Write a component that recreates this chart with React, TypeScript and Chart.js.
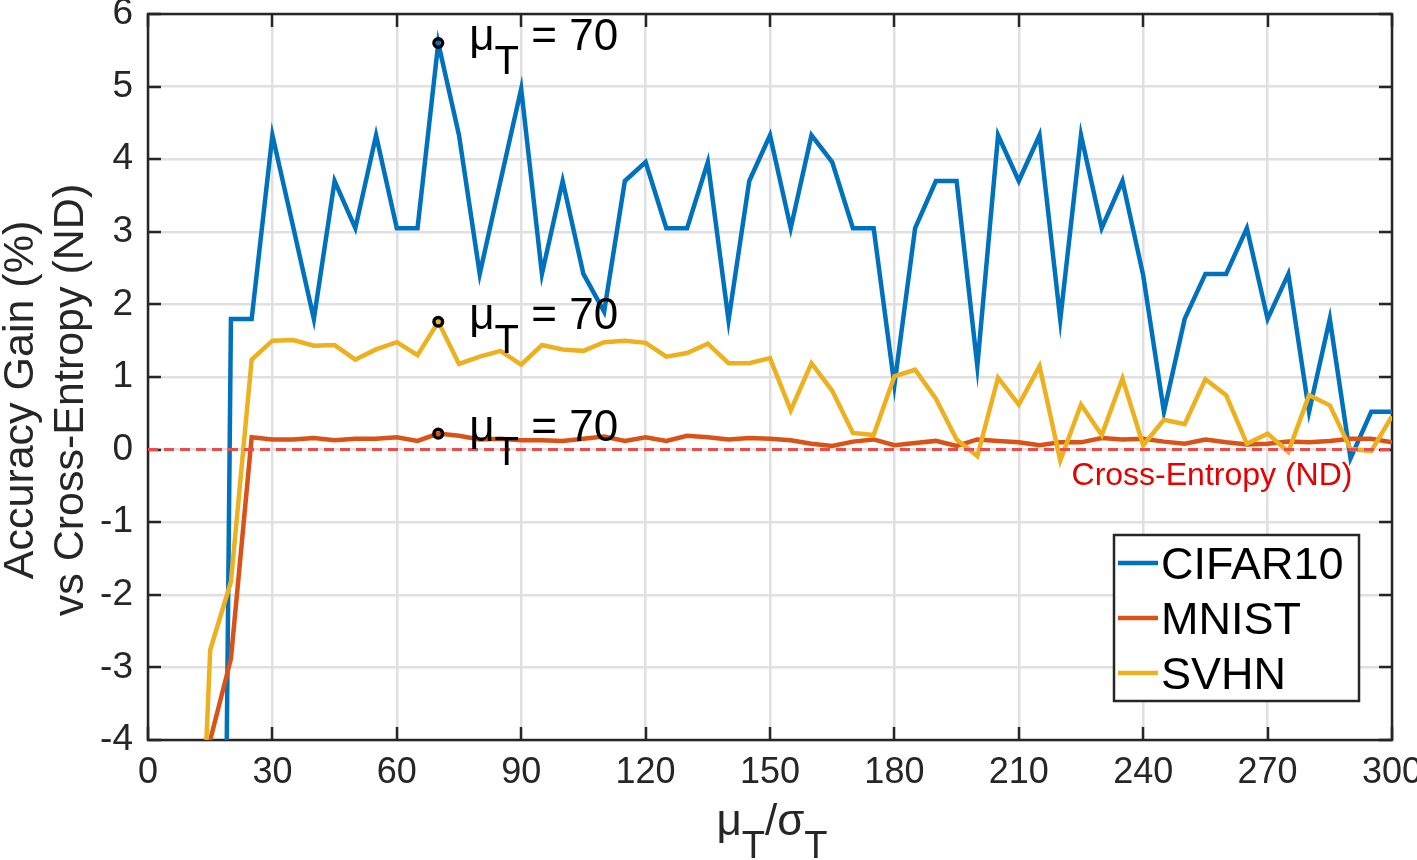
import React, { useEffect, useRef } from 'react';
import { Chart, registerables } from 'chart.js';

Chart.register(...registerables);

const xValues = [10, 15, 20, 25, 30, 35, 40, 45, 50, 55, 60, 65, 70, 75, 80, 85, 90, 95, 100, 105, 110, 115, 120, 125, 130, 135, 140, 145, 150, 155, 160, 165, 170, 175, 180, 185, 190, 195, 200, 205, 210, 215, 220, 225, 230, 235, 240, 245, 250, 255, 260, 265, 270, 275, 280, 285, 290, 295, 300];

const cifar10 = [-30, -27, 1.8, 1.8, 4.33, 3.07, 1.8, 3.7, 3.05, 4.33, 3.05, 3.05, 5.6, 4.33, 2.42, 3.7, 4.97, 2.42, 3.7, 2.42, 1.9, 3.7, 3.96, 3.05, 3.05, 3.96, 1.78, 3.7, 4.33, 3.05, 4.33, 3.96, 3.05, 3.05, 0.89, 3.05, 3.7, 3.7, 1.15, 4.33, 3.7, 4.33, 1.79, 4.33, 3.05, 3.7, 2.4, 0.52, 1.8, 2.42, 2.42, 3.05, 1.8, 2.42, 0.52, 1.8, -0.12, 0.52, 0.52];

const mnist = [-10, -4.0, -2.88, 0.17, 0.14, 0.14, 0.16, 0.13, 0.15, 0.15, 0.17, 0.12, 0.22, 0.19, 0.14, 0.15, 0.13, 0.13, 0.12, 0.15, 0.18, 0.12, 0.17, 0.12, 0.19, 0.17, 0.14, 0.16, 0.15, 0.13, 0.08, 0.05, 0.11, 0.14, 0.06, 0.09, 0.12, 0.05, 0.14, 0.12, 0.1, 0.06, 0.1, 0.1, 0.16, 0.14, 0.15, 0.11, 0.08, 0.14, 0.1, 0.07, 0.08, 0.11, 0.1, 0.12, 0.15, 0.15, 0.1];

const svhn = [-9.6, -2.76, -1.82, 1.24, 1.5, 1.51, 1.43, 1.44, 1.24, 1.38, 1.48, 1.3, 1.76, 1.18, 1.28, 1.36, 1.17, 1.44, 1.38, 1.36, 1.48, 1.5, 1.47, 1.28, 1.33, 1.46, 1.19, 1.19, 1.26, 0.54, 1.19, 0.81, 0.23, 0.2, 1.01, 1.1, 0.7, 0.14, -0.09, 0.99, 0.62, 1.15, -0.15, 0.62, 0.2, 0.98, 0.06, 0.41, 0.35, 0.97, 0.75, 0.08, 0.22, -0.03, 0.75, 0.61, 0.01, -0.02, 0.46];

const seriesNames = ['CIFAR10', 'MNIST', 'SVHN'];
const seriesColors = ['#0072BD', '#D95319', '#EDB120'];

const baselineX = [0, 300];
const baselineY = [0, 0];
const baselineLabel = 'Cross-Entropy (ND)';

const xTicks = [0, 30, 60, 90, 120, 150, 180, 210, 240, 270, 300];
const yTicks = [-4, -3, -2, -1, 0, 1, 2, 3, 4, 5, 6];

const markX = 70;
const markLabelValue = '70';

const yTitleLines = ['Accuracy Gain (%)', 'vs Cross-Entropy (ND)'];

const FONT = '"Liberation Sans", Arial, Helvetica, sans-serif';
const AXIS = '#262626';
const LINE_W = 4.5;

type Part = { t: string; size: number; dy: number };

function partsWidth(ctx: CanvasRenderingContext2D, parts: Part[]) {
  let w = 0;
  for (const p of parts) {
    ctx.font = `${p.size}px ${FONT}`;
    w += ctx.measureText(p.t).width;
  }
  return w;
}

function drawParts(ctx: CanvasRenderingContext2D, parts: Part[], x: number, y: number) {
  let cx = x;
  ctx.textAlign = 'left';
  ctx.textBaseline = 'alphabetic';
  for (const p of parts) {
    ctx.font = `${p.size}px ${FONT}`;
    ctx.fillText(p.t, cx, y + p.dy);
    cx += ctx.measureText(p.t).width;
  }
}

const decorPlugin = {
  id: 'decor',
  beforeDatasetsDraw(chart: any) {
    const { ctx, chartArea: a } = chart;
    const xs = chart.scales.x;
    const ys = chart.scales.y;
    ctx.save();
    ctx.strokeStyle = AXIS;
    ctx.lineWidth = 2.5;
    const tl = 13;
    ctx.beginPath();
    for (const v of xTicks) {
      const px = Math.round(xs.getPixelForValue(v));
      ctx.moveTo(px, a.bottom);
      ctx.lineTo(px, a.bottom - tl);
      ctx.moveTo(px, a.top);
      ctx.lineTo(px, a.top + tl);
    }
    for (const v of yTicks) {
      const py = Math.round(ys.getPixelForValue(v));
      ctx.moveTo(a.left, py);
      ctx.lineTo(a.left + tl, py);
      ctx.moveTo(a.right, py);
      ctx.lineTo(a.right - tl, py);
    }
    ctx.stroke();
    ctx.strokeRect(a.left, a.top, a.right - a.left, a.bottom - a.top);
    ctx.restore();
  },
  afterDatasetsDraw(chart: any) {
    const { ctx } = chart;
    const xs = chart.scales.x;
    const ys = chart.scales.y;
    const idx = xValues.indexOf(markX);
    ctx.save();
    // markers and annotations
    [cifar10, svhn, mnist].forEach((arr) => {
      const px = xs.getPixelForValue(markX);
      const py = ys.getPixelForValue(arr[idx]);
      ctx.beginPath();
      ctx.arc(px, py, 4.3, 0, Math.PI * 2);
      ctx.strokeStyle = '#000';
      ctx.lineWidth = 3.5;
      ctx.stroke();
      ctx.fillStyle = '#000';
      drawParts(ctx, [
        { t: 'μ', size: 44, dy: 0 },
        { t: 'T', size: 40, dy: 24 },
        { t: ' = ' + markLabelValue, size: 44, dy: 0 },
      ], px + 31, py + 7);
    });
    // baseline label
    ctx.fillStyle = '#E60000';
    ctx.font = `32px ${FONT}`;
    ctx.textAlign = 'center';
    ctx.textBaseline = 'alphabetic';
    ctx.fillText(baselineLabel, 1212, ys.getPixelForValue(0) + 35);

    // legend
    const lx = 1114, ly = 535, lw = 245, lh = 166;
    ctx.fillStyle = '#fff';
    ctx.fillRect(lx, ly, lw, lh);
    ctx.strokeStyle = AXIS;
    ctx.lineWidth = 2.5;
    ctx.strokeRect(lx, ly, lw, lh);
    const rowY = [563, 618, 673];
    seriesNames.forEach((n, i) => {
      ctx.strokeStyle = seriesColors[i];
      ctx.lineWidth = LINE_W;
      ctx.beginPath();
      ctx.moveTo(1118, rowY[i]);
      ctx.lineTo(1158, rowY[i]);
      ctx.stroke();
      ctx.fillStyle = '#000';
      ctx.font = `45px ${FONT}`;
      ctx.textAlign = 'left';
      ctx.textBaseline = 'alphabetic';
      ctx.fillText(n, 1161, rowY[i] + 16);
    });

    // y title
    ctx.fillStyle = '#262626';
    ctx.font = `43px ${FONT}`;
    ctx.textAlign = 'center';
    ctx.textBaseline = 'alphabetic';
    const cy = 400;
    [33, 83].forEach((bx, i) => {
      ctx.save();
      ctx.translate(bx, cy);
      ctx.rotate(-Math.PI / 2);
      ctx.fillText(yTitleLines[i], 0, 0);
      ctx.restore();
    });

    // x title
    const xp: Part[] = [
      { t: 'μ', size: 44, dy: 0 },
      { t: 'T', size: 38, dy: 23 },
      { t: '/σ', size: 44, dy: 0 },
      { t: 'T', size: 38, dy: 23 },
    ];
    const w = partsWidth(ctx, xp);
    ctx.fillStyle = '#262626';
    drawParts(ctx, xp, 772 - w / 2, 835);
    ctx.restore();
  },
};

export default function App() {
  const ref = useRef<HTMLCanvasElement>(null);
  useEffect(() => {
    if (!ref.current) return;
    const mk = (arr: number[]) => xValues.map((x, i) => ({ x, y: arr[i] }));
    const chart = new Chart(ref.current, {
      type: 'line',
      data: {
        datasets: [
          {
            label: 'baseline',
            data: baselineX.map((x, i) => ({ x, y: baselineY[i] })),
            borderColor: '#EE4B4B',
            borderWidth: 3,
            borderDash: [10, 6],
            pointRadius: 0,
            order: 0,
          },
          { label: seriesNames[0], data: mk(cifar10), borderColor: seriesColors[0], borderWidth: LINE_W, pointRadius: 0, order: 3 },
          { label: seriesNames[1], data: mk(mnist), borderColor: seriesColors[1], borderWidth: LINE_W, pointRadius: 0, order: 2 },
          { label: seriesNames[2], data: mk(svhn), borderColor: seriesColors[2], borderWidth: LINE_W, pointRadius: 0, order: 1 },
        ],
      },
      options: {
        responsive: false,
        animation: false,
        devicePixelRatio: 1,
        layout: { padding: { top: 14, right: 25, left: 0, bottom: 0 } },
        plugins: { legend: { display: false }, tooltip: { enabled: false } },
        elements: { line: { tension: 0, borderJoinStyle: 'miter' as any } },
        scales: {
          x: {
            type: 'linear',
            min: 0,
            max: 300,
            afterBuildTicks: (s: any) => { s.ticks = xTicks.map((v) => ({ value: v })); },
            afterFit: (s: any) => { s.height = 120; s.paddingLeft = 0; s.paddingRight = 0; },
            ticks: { color: AXIS, font: { family: FONT, size: 36 }, padding: 11, maxRotation: 0, autoSkip: false },
            grid: { color: '#E0E0E0', lineWidth: 2.5, drawTicks: false },
            border: { display: false },
          },
          y: {
            type: 'linear',
            min: -4,
            max: 6,
            afterBuildTicks: (s: any) => { s.ticks = yTicks.map((v) => ({ value: v })); },
            afterFit: (s: any) => { s.width = 148; s.paddingTop = 0; s.paddingBottom = 0; },
            ticks: { color: AXIS, font: { family: FONT, size: 37 }, padding: 15, autoSkip: false },
            grid: { color: '#E0E0E0', lineWidth: 2.5, drawTicks: false },
            border: { display: false },
          },
        },
      },
      plugins: [decorPlugin],
    });
    return () => chart.destroy();
  }, []);
  return (
    <div style={{ position: 'absolute', left: 0, top: 0, width: 1417, height: 860, background: '#fff' }}>
      <canvas ref={ref} width={1417} height={860} />
    </div>
  );
}
